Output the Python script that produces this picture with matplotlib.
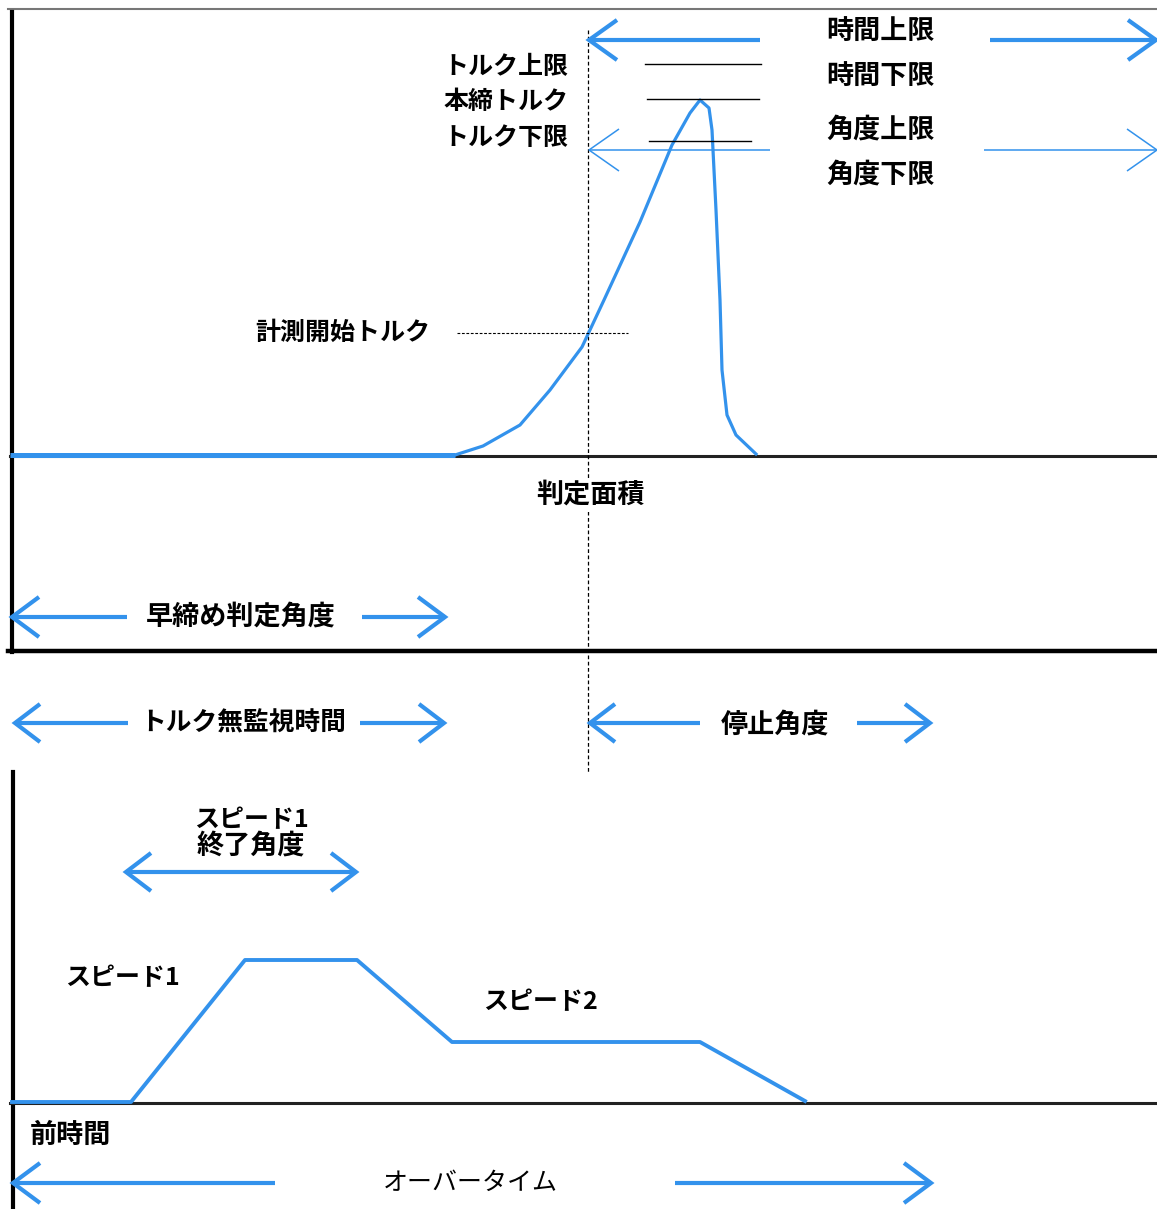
import matplotlib
matplotlib.use("Agg")
import matplotlib.pyplot as plt

plt.rcParams['font.family'] = ['Noto Sans CJK JP', 'DejaVu Sans']

BLUE = '#3392ec'

# ---- data (diagram coordinates) ----
torque_x = [455, 483, 520, 550, 582, 604, 640, 672, 690, 700, 709, 712, 716, 720, 722, 727, 736, 756]
torque_y = [455, 446, 425, 390, 347, 300, 222, 145, 113, 100, 108, 130, 210, 300, 370, 415, 435, 454]
speed_x = [12, 131, 245, 357, 452, 700, 805]
speed_y = [1102, 1102, 960, 960, 1042, 1042, 1101]
torque_labels = ['トルク上限', '本締トルク', 'トルク下限']
torque_label_y = [67, 102, 138]
limit_line_y = [64, 99, 141]
limit_line_x0 = [645, 647, 649]
limit_line_x1 = [761, 759, 751]
right_labels = ['時間上限', '時間下限', '角度上限', '角度下限']
right_label_y = [31, 76, 130, 175]

fig = plt.figure(figsize=(11.57, 12.09), dpi=100)
ax = fig.add_axes([0, 0, 1, 1])
ax.set_xlim(0, 1157)
ax.set_ylim(1209, 0)
ax.axis('off')

FS = 19.5   # kanji-heavy labels
FSK = 18    # katakana-heavy labels


def chevron_arrow(x0, x1, y, tip_left=True, tip_right=True, lw=3.0, adx=27, ady=20,
                  color=BLUE, shaft=None):
    if shaft is None:
        ax.plot([x0, x1], [y, y], color=color, lw=lw, solid_capstyle='butt')
    else:
        for a, b in shaft:
            ax.plot([a, b], [y, y], color=color, lw=lw, solid_capstyle='butt')
    if tip_left:
        ax.plot([x0 + adx, x0, x0 + adx], [y - ady, y, y + ady], color=color, lw=lw,
                solid_capstyle='butt', solid_joinstyle='miter')
    if tip_right:
        ax.plot([x1 - adx, x1, x1 - adx], [y - ady, y, y + ady], color=color, lw=lw,
                solid_capstyle='butt', solid_joinstyle='miter')


# frame lines
ax.plot([8, 1157], [9, 9], color='#777777', lw=1.5)
ax.plot([12, 12], [12, 652], color='black', lw=3.0)
ax.plot([10, 1157], [455.5, 455.5], color='#222222', lw=2.2)
ax.plot([8, 1157], [651, 651], color='black', lw=3.2)
ax.plot([13, 13], [772, 1209], color='black', lw=3.0)
ax.plot([10, 1157], [1102.5, 1102.5], color='#222222', lw=2.2)

# dashed vertical
ax.plot([588, 588], [30, 772], color='black', lw=0.9, dashes=(3, 2))

# torque curve
ax.plot([10, 455], [455, 455], color=BLUE, lw=3.6, solid_capstyle='butt')
ax.plot(torque_x, torque_y, color=BLUE, lw=2.3)

# limit lines
for y, a, b in zip(limit_line_y, limit_line_x0, limit_line_x1):
    ax.plot([a, b], [y, y], color='black', lw=1.0)

# torque labels
for t, y in zip(torque_labels, torque_label_y):
    ax.text(568, y, t, ha='right', va='center', fontsize=FSK, fontweight='bold')

# right labels
for t, y in zip(right_labels, right_label_y):
    ax.text(826, y, t, ha='left', va='center', fontsize=FS, fontweight='bold')

# time limit arrow (thick)
chevron_arrow(589, 1156, 40, lw=3.0, adx=28, ady=20, shaft=[(589, 760), (990, 1156)])
# angle limit arrow (thin)
chevron_arrow(589, 1157, 150, lw=1.1, adx=30, ady=21, shaft=[(589, 770), (984, 1157)])

# measurement start torque
ax.plot([457, 628], [333, 333], color='black', lw=0.8, dashes=(2.5, 1.5))
ax.text(430, 333, '計測開始トルク', ha='right', va='center', fontsize=FSK, fontweight='bold')

# judgement area
ax.text(590, 495, '判定面積', ha='center', va='center', fontsize=FS, fontweight='bold',
        bbox=dict(facecolor='white', edgecolor='none', pad=2))

# early tightening angle
chevron_arrow(12, 445, 617, lw=3.0, adx=27, ady=20, shaft=[(12, 127), (362, 445)])
ax.text(241, 617, '早締め判定角度', ha='center', va='center', fontsize=FS, fontweight='bold')

# torque unmonitored time
chevron_arrow(15, 444, 723, lw=3.0, adx=25, ady=19, shaft=[(15, 128), (360, 444)])
ax.text(243, 723, 'トルク無監視時間', ha='center', va='center', fontsize=FSK + 0.5, fontweight='bold')

# stop angle
chevron_arrow(590, 930, 723, lw=3.0, adx=25, ady=19, shaft=[(590, 700), (857, 930)])
ax.text(775, 725, '停止角度', ha='center', va='center', fontsize=FS, fontweight='bold')

# speed 1 end angle
ax.text(251, 820, 'スピード1', ha='center', va='center', fontsize=FSK, fontweight='bold')
ax.text(251, 846, '終了角度', ha='center', va='center', fontsize=FS, fontweight='bold')
chevron_arrow(126, 356, 872, lw=3.0, adx=25, ady=19)

# speed curve
ax.plot(speed_x, speed_y, color=BLUE, lw=2.8)
ax.text(65, 978, 'スピード1', ha='left', va='center', fontsize=FSK, fontweight='bold')
ax.text(483, 1002, 'スピード2', ha='left', va='center', fontsize=FSK, fontweight='bold')

# pre-time / overtime
ax.text(30, 1135, '前時間', ha='left', va='center', fontsize=FS, fontweight='bold')
chevron_arrow(13, 931, 1183, lw=3.0, adx=27, ady=20, shaft=[(13, 275), (675, 931)])
ax.text(470, 1183, 'オーバータイム', ha='center', va='center', fontsize=FSK)

fig.savefig('out.png', dpi=100)
